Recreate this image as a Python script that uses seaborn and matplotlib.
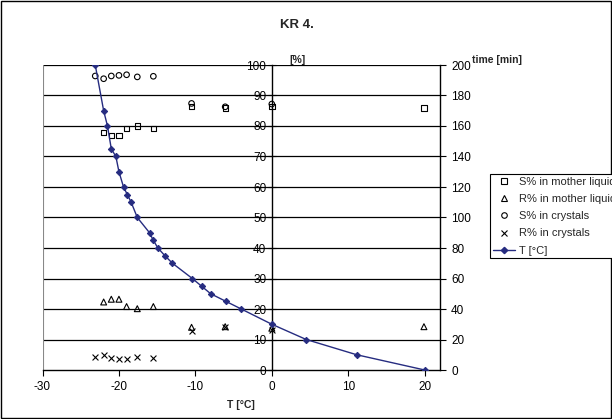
import matplotlib
matplotlib.use("Agg")
import matplotlib.pyplot as plt
import seaborn as sns
import pandas as pd
from matplotlib.lines import Line2D
from matplotlib.patches import Rectangle

# ---- data ----
x_samples = [-22.0, -21.0, -20.0, -19.0, -17.6, -15.5, -10.5, -6.1, 0.0, 19.9]
s_mother = [77.9, 76.9, 76.9, 79.2, 80.0, 79.2, 86.3, 85.9, 86.3, 85.9]
r_mother = [22.3, 23.2, 23.2, 20.8, 20.1, 20.8, 14.0, 14.2, 13.7, 14.2]

x_cryst = [-23.1, -22.0, -21.0, -20.0, -19.0, -17.6, -15.5, -10.5, -6.1, 0.0]
s_cryst = [96.4, 95.5, 96.4, 96.6, 96.8, 96.1, 96.3, 87.4, 86.3, 87.2]
r_cryst = [4.1, 4.8, 3.9, 3.7, 3.5, 4.4, 3.9, 12.9, 14.0, 13.1]

temp_c = [-23.1, -22.0, -21.5, -21.0, -20.4, -20.0, -19.4, -18.9, -18.4, -17.6,
          -16.0, -15.5, -14.9, -14.0, -13.0, -10.4, -9.2, -8.0, -6.0, -4.0,
          0.0, 4.5, 11.1, 20.0]
time_min = [200, 170, 160, 145, 140, 130, 120, 115, 110, 100,
            90, 85, 80, 75, 70, 60, 55, 50, 45, 40,
            30, 20, 10, 0]

title = "KR 4."
legend_labels = ["S% in mother liquid", "R% in mother liquid", "S% in crystals",
                 "R% in crystals", "T [°C]"]

sns.set_theme(style="white")
plt.rcParams['font.family'] = ['Liberation Sans', 'DejaVu Sans']
plt.rcParams['font.size'] = 8.5
plt.rcParams['axes.unicode_minus'] = False

W, H = 612, 419
fig = plt.figure(figsize=(W / 100, H / 100), dpi=100)
L, R, T, B = 42.5, 440, 65, 370
ax = fig.add_axes([L / W, 1 - B / H, (R - L) / W, (B - T) / H])
ax2 = ax.twinx()

line_col = "#262C80"

# gridlines
for v in range(10, 101, 10):
    ax.axhline(v, color="black", lw=0.9, zorder=0)

sns.scatterplot(x=x_samples, y=s_mother, ax=ax, marker="s", s=15,
                facecolor="none", edgecolor="black", linewidth=0.8, zorder=3)
sns.scatterplot(x=x_samples, y=r_mother, ax=ax, marker="^", s=18,
                facecolor="none", edgecolor="black", linewidth=0.8, zorder=3)
sns.scatterplot(x=x_cryst, y=s_cryst, ax=ax, marker="o", s=16,
                facecolor="none", edgecolor="black", linewidth=0.8, zorder=3)
sns.scatterplot(x=x_cryst, y=r_cryst, ax=ax, marker="x", s=18,
                color="black", linewidth=0.8, zorder=3)

df_t = pd.DataFrame({"T": temp_c, "time": time_min})
sns.lineplot(data=df_t, x="T", y="time", ax=ax2, sort=False, estimator=None,
             color=line_col, lw=1.0, marker="D", markersize=3.2,
             markeredgecolor=line_col, markerfacecolor=line_col)

ax.set_xlim(-30, 22)
ax.set_ylim(0, 100)
ax2.set_ylim(0, 200)
ax.set_xticks(range(-30, 21, 10))
ax.set_yticks(range(0, 101, 10))
ax2.set_yticks(range(0, 201, 20))
ax.set_xlabel("")
ax.set_ylabel("")
ax2.set_xlabel("")
ax2.set_ylabel("")

for a in (ax, ax2):
    for sp in a.spines.values():
        sp.set_visible(False)
ax.spines['left'].set_visible(True)
ax.spines['left'].set_position(('data', 0))
ax.spines['left'].set_color("black")
ax.spines['left'].set_linewidth(1.0)
ax.spines['bottom'].set_visible(True)
ax.spines['bottom'].set_color("black")
ax.spines['bottom'].set_linewidth(1.0)
ax2.spines['right'].set_visible(True)
ax2.spines['right'].set_color("black")
ax2.spines['right'].set_linewidth(1.0)
ax.axvline(-30, color="#888888", lw=0.8, zorder=0)

ax.tick_params(axis="y", direction="inout", length=6, width=0.8, colors="black",
               labelsize=8.5, pad=1, left=True)
ax.tick_params(axis="x", direction="out", length=4, width=0.8, colors="black",
               labelsize=8.5, pad=4, bottom=True)
ax2.tick_params(axis="y", direction="out", length=4, width=0.8, colors="black",
                labelsize=8.5, pad=4, right=True)

fig.text(297 / W, 1 - 25 / H, title, ha="center", va="center",
         fontsize=9.5, fontweight="bold")
fig.text(298 / W, 1 - 60 / H, "[%]", ha="center", va="center",
         fontsize=7.5, fontweight="bold")
fig.text(472 / W, 1 - 60 / H, "time [min]", ha="left", va="center",
         fontsize=7.5, fontweight="bold")
fig.text(241 / W, 1 - 405 / H, "T [°C]", ha="center", va="center",
         fontsize=7.5, fontweight="bold")

handles = [
    Line2D([], [], ls="none", marker="s", mfc="none", mec="black", ms=4, mew=0.8),
    Line2D([], [], ls="none", marker="^", mfc="none", mec="black", ms=4.5, mew=0.8),
    Line2D([], [], ls="none", marker="o", mfc="none", mec="black", ms=4, mew=0.8),
    Line2D([], [], ls="none", marker="x", color="black", ms=4.5, mew=0.8),
    Line2D([], [], color=line_col, lw=1.0, marker="D", ms=3.2, mfc=line_col, mec=line_col),
]
leg = fig.legend(handles, legend_labels, loc="upper left",
                 bbox_to_anchor=(490 / W, 1 - 174 / H), frameon=True,
                 fontsize=8, handlelength=2.0, handletextpad=0.35,
                 labelspacing=0.65, borderpad=0.25, fancybox=False,
                 edgecolor="black", framealpha=1, borderaxespad=0)
leg.get_frame().set_linewidth(0.8)

fig.patches.append(Rectangle((0.002, 0.002), 0.996, 0.995, transform=fig.transFigure,
                             fill=False, edgecolor="black", lw=1.0))

fig.savefig("out.png", dpi=100)
